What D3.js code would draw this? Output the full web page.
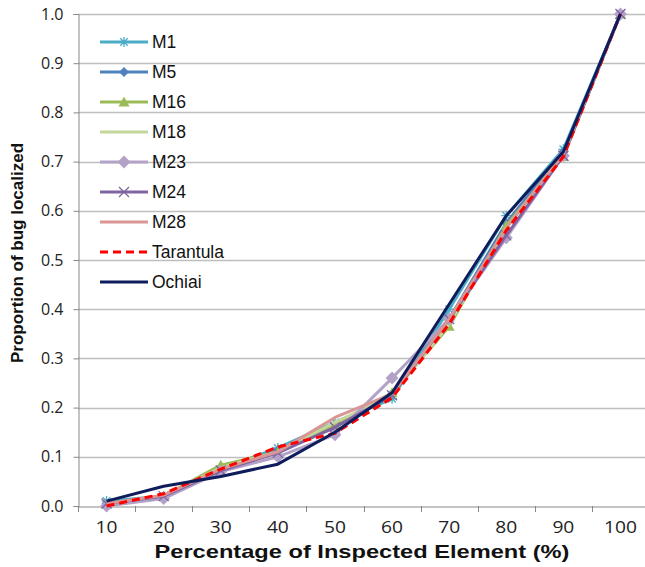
<!DOCTYPE html>
<html><head><meta charset="utf-8">
<script src="https://cdn.jsdelivr.net/npm/d3@7"></script>
<style>body{margin:0;background:#fff}svg{display:block}</style>
</head><body>
<svg id="c" width="645" height="567"></svg>
<script>
const categories = [10,20,30,40,50,60,70,80,90,100];
const yTicks = [0,0.1,0.2,0.3,0.4,0.5,0.6,0.7,0.8,0.9,1.0];
const M1  = [0.010,0.020,0.075,0.118,0.170,0.218,0.400,0.590,0.725,1.0];
const M5  = [0.005,0.020,0.072,0.112,0.160,0.228,0.380,0.575,0.720,1.0];
const M16 = [0.005,0.020,0.083,0.110,0.165,0.230,0.365,0.570,0.710,1.0];
const M18 = [0.005,0.020,0.078,0.110,0.170,0.225,0.370,0.565,0.715,1.0];
const M23 = [0.000,0.015,0.070,0.100,0.145,0.260,0.380,0.545,0.712,1.0];
const M24 = [0.005,0.020,0.072,0.108,0.160,0.225,0.380,0.550,0.712,1.0];
const M28 = [0.005,0.022,0.075,0.110,0.180,0.228,0.380,0.565,0.715,1.0];
const Tarantula = [0.000,0.025,0.075,0.120,0.148,0.220,0.370,0.560,0.710,1.0];
const Ochiai = [0.010,0.040,0.060,0.085,0.150,0.230,0.410,0.590,0.720,1.0];

const series = [
  {name:"M1", values:M1, color:"#4BACC6", marker:"star"},
  {name:"M5", values:M5, color:"#4F81BD", marker:"diamond"},
  {name:"M16", values:M16, color:"#9BBB59", marker:"triangle"},
  {name:"M18", values:M18, color:"#C3D69B", marker:null},
  {name:"M23", values:M23, color:"#B3A2C7", marker:"diamond2"},
  {name:"M24", values:M24, color:"#8064A2", marker:"x"},
  {name:"M28", values:M28, color:"#D99694", marker:null},
  {name:"Tarantula", values:Tarantula, color:"#FF0000", marker:null, dash:"8,5"},
  {name:"Ochiai", values:Ochiai, color:"#0F1C5C", marker:null}
];

const svg = d3.select("#c");
const pLeft = 78, pRight = 649, pTop = 14, pBottom = 506;
const x = d3.scaleBand().domain(categories).range([pLeft, pRight]);
const y = d3.scaleLinear().domain([0,1]).range([pBottom, pTop]);

// gridlines
svg.append("g").selectAll("line").data(yTicks.filter(d=>d>0)).join("line")
  .attr("x1", pLeft).attr("x2", 645)
  .attr("y1", d=>Math.round(y(d))+0.5).attr("y2", d=>Math.round(y(d))+0.5)
  .attr("stroke", "#BEBEBE").attr("stroke-width", 1.5);

// y axis
const yAxis = svg.append("g").attr("transform", `translate(${pLeft+0.5},0)`)
  .call(d3.axisLeft(y).tickValues(yTicks).tickFormat(d3.format(".1f")).tickSize(5).tickPadding(10));
yAxis.select(".domain").attr("stroke", "#888");
yAxis.selectAll(".tick line").attr("stroke", "#888");
yAxis.selectAll("text").attr("font-family","Open Sans, sans-serif").attr("font-size", 16).attr("fill","#222");

// x axis
const xAxis = svg.append("g").attr("transform", `translate(0,${pBottom+0.5})`)
  .call(d3.axisBottom(x).tickSize(0).tickPadding(15));
xAxis.select(".domain").attr("stroke", "#888");
xAxis.selectAll("text").attr("font-family","Open Sans, sans-serif").attr("font-size", 16).attr("fill","#222")
  .attr("transform","scale(1.2,1)");
xAxis.selectAll(".tick").each(function(){
  const t = d3.select(this).attr("transform");
  const m = /translate\(([^,]+),/.exec(t);
  const tx = +m[1];
  d3.select(this).attr("transform", `translate(${tx},0)`);
});
// category boundary ticks
svg.append("g").selectAll("line").data(categories).join("line")
  .attr("x1", d=>Math.round(x(d))+0.5).attr("x2", d=>Math.round(x(d))+0.5)
  .attr("y1", pBottom).attr("y2", pBottom+6).attr("stroke","#888");

const cx = d => x(d) + x.bandwidth()/2;
const line = d3.line().x((d,i)=>cx(categories[i])).y(d=>y(d));

function drawMarker(g, type, color, px, py) {
  if (!type) return;
  if (type === "star") {
    const s = 5;
    g.append("path").attr("d", `M${px-s},${py}L${px+s},${py}M${px},${py-s}L${px},${py+s}M${px-s*0.75},${py-s*0.75}L${px+s*0.75},${py+s*0.75}M${px-s*0.75},${py+s*0.75}L${px+s*0.75},${py-s*0.75}`)
      .attr("stroke", color).attr("stroke-width", 1.3).attr("fill","none");
  } else if (type === "x") {
    const s = 5;
    g.append("path").attr("d", `M${px-s},${py-s}L${px+s},${py+s}M${px-s},${py+s}L${px+s},${py-s}`)
      .attr("stroke", color).attr("stroke-width", 1.3).attr("fill","none");
  } else if (type === "diamond") {
    const s = 5;
    g.append("path").attr("d", `M${px},${py-s}L${px+s},${py}L${px},${py+s}L${px-s},${py}Z`).attr("fill", color);
  } else if (type === "diamond2") {
    const s = 6.5;
    g.append("path").attr("d", `M${px},${py-s}L${px+s},${py}L${px},${py+s}L${px-s},${py}Z`).attr("fill", color);
  } else if (type === "triangle") {
    const s = 5.5;
    g.append("path").attr("d", `M${px},${py-s}L${px+s},${py+s*0.8}L${px-s},${py+s*0.8}Z`).attr("fill", color);
  }
}

const plot = svg.append("g");
series.forEach(s => {
  const g = plot.append("g");
  g.append("path").datum(s.values).attr("d", line)
    .attr("fill","none").attr("stroke", s.color).attr("stroke-width", 3)
    .attr("stroke-linejoin","round")
    .attr("stroke-dasharray", s.dash || null);
  s.values.forEach((v,i)=> drawMarker(g, s.marker, s.color, cx(categories[i]), y(v)));
});

// legend
const lg = svg.append("g");
series.forEach((s,i) => {
  const ly = 42 + i*30;
  lg.append("line").attr("x1",100).attr("x2",148).attr("y1",ly).attr("y2",ly)
    .attr("stroke", s.color).attr("stroke-width",3).attr("stroke-dasharray", s.dash || null);
  drawMarker(lg, s.marker, s.color, 124, ly);
  lg.append("text").attr("x",152).attr("y",ly+6).text(s.name)
    .attr("font-family","Liberation Sans, Arial, sans-serif").attr("font-size",17.5).attr("fill","#111");
});

// axis titles
svg.append("text").attr("x", 362).attr("y", 558).attr("text-anchor","middle")
  .attr("font-family","Liberation Sans, Arial, sans-serif").attr("font-weight","bold").attr("font-size",19)
  .attr("textLength", 415).attr("lengthAdjust","spacingAndGlyphs")
  .attr("fill","#111").text("Percentage of Inspected Element (%)");
svg.append("text").attr("transform","translate(23,253) rotate(-90)").attr("text-anchor","middle")
  .attr("font-family","Liberation Sans, Arial, sans-serif").attr("font-weight","bold").attr("font-size",17)
  .attr("fill","#111").text("Proportion of bug localized");
</script>
</body></html>
